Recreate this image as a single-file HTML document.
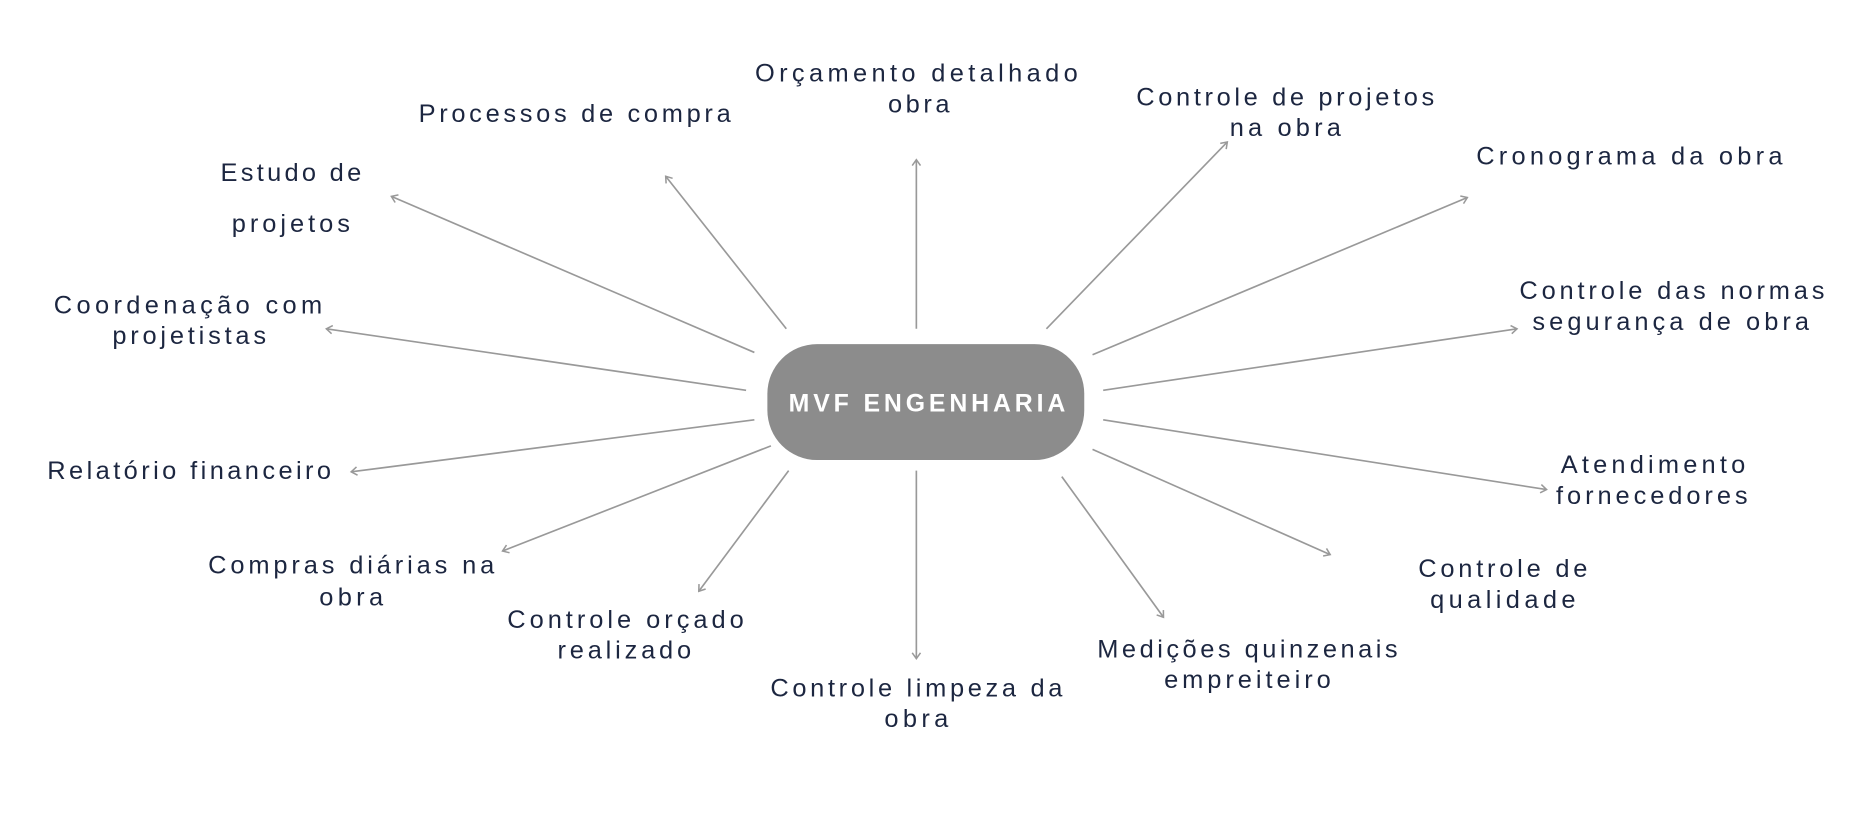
<!DOCTYPE html>
<html><head><meta charset="utf-8"><style>
html,body{margin:0;padding:0;background:#fff;width:1854px;height:816px;overflow:hidden}
svg{display:block}
.t{font-family:"Liberation Sans",sans-serif;font-size:21.5px;fill:#1c2640;text-anchor:middle}
.c{font-family:"Liberation Sans",sans-serif;font-size:21px;font-weight:bold;fill:#fff;text-anchor:middle}
line{stroke:#999;stroke-width:1.4}
</style></head><body>
<svg width="1854" height="816" viewBox="0 0 1568 690" xmlns="http://www.w3.org/2000/svg">
<defs><marker id="a" markerWidth="10" markerHeight="10" refX="8" refY="5" orient="auto" markerUnits="userSpaceOnUse"><path d="M3,1.5 L8,5 L3,8.5" fill="none" stroke="#999" stroke-width="1.3"/></marker></defs>
<g marker-end="url(#a)">
<line x1="775" y1="278" x2="775" y2="135"/>
<line x1="665" y1="278" x2="563" y2="149"/>
<line x1="638" y1="298" x2="331" y2="166"/>
<line x1="631" y1="330" x2="276" y2="278"/>
<line x1="638" y1="355" x2="297" y2="399"/>
<line x1="652" y1="377" x2="425" y2="466"/>
<line x1="667" y1="398" x2="591" y2="500"/>
<line x1="775" y1="398" x2="775" y2="557"/>
<line x1="898" y1="403" x2="984" y2="522"/>
<line x1="924" y1="380" x2="1125" y2="469"/>
<line x1="933" y1="355" x2="1308" y2="414"/>
<line x1="933" y1="330" x2="1283" y2="278"/>
<line x1="924" y1="300" x2="1241" y2="167"/>
<line x1="885" y1="278" x2="1038" y2="120"/>
</g>
<rect x="649" y="291" width="268" height="98" rx="42" fill="#8c8c8c"/>
<text class="c" x="784" y="348" textLength="234" lengthAdjust="spacing">MVF ENGENHARIA</text>
<text class="t" x="775" y="69" textLength="273" lengthAdjust="spacing">Orçamento detalhado</text>
<text class="t" x="777" y="95" textLength="52" lengthAdjust="spacing">obra</text>
<text class="t" x="486" y="103" textLength="264" lengthAdjust="spacing">Processos de compra</text>
<text class="t" x="1087" y="89" textLength="252" lengthAdjust="spacing">Controle de projetos</text>
<text class="t" x="1087" y="115" textLength="94" lengthAdjust="spacing">na obra</text>
<text class="t" x="1378" y="139" textLength="259" lengthAdjust="spacing">Cronograma da obra</text>
<text class="t" x="246" y="153" textLength="119" lengthAdjust="spacing">Estudo de</text>
<text class="t" x="246" y="196" textLength="100" lengthAdjust="spacing">projetos</text>
<text class="t" x="159" y="265" textLength="227" lengthAdjust="spacing">Coordenação com</text>
<text class="t" x="160" y="291" textLength="130" lengthAdjust="spacing">projetistas</text>
<text class="t" x="1414" y="253" textLength="258" lengthAdjust="spacing">Controle das normas</text>
<text class="t" x="1413" y="279" textLength="234" lengthAdjust="spacing">segurança de obra</text>
<text class="t" x="160" y="405" textLength="240" lengthAdjust="spacing">Relatório financeiro</text>
<text class="t" x="1398" y="400" textLength="156" lengthAdjust="spacing">Atendimento</text>
<text class="t" x="1397" y="426" textLength="162" lengthAdjust="spacing">fornecedores</text>
<text class="t" x="297" y="485" textLength="242" lengthAdjust="spacing">Compras diárias na</text>
<text class="t" x="297" y="512" textLength="54" lengthAdjust="spacing">obra</text>
<text class="t" x="529" y="531" textLength="200" lengthAdjust="spacing">Controle orçado</text>
<text class="t" x="528" y="557" textLength="113" lengthAdjust="spacing">realizado</text>
<text class="t" x="1271" y="488" textLength="143" lengthAdjust="spacing">Controle de</text>
<text class="t" x="1271" y="514" textLength="123" lengthAdjust="spacing">qualidade</text>
<text class="t" x="1055" y="556" textLength="254" lengthAdjust="spacing">Medições quinzenais</text>
<text class="t" x="1055" y="582" textLength="141" lengthAdjust="spacing">empreiteiro</text>
<text class="t" x="775" y="589" textLength="247" lengthAdjust="spacing">Controle limpeza da</text>
<text class="t" x="775" y="615" textLength="54" lengthAdjust="spacing">obra</text>
</svg>
</body></html>
